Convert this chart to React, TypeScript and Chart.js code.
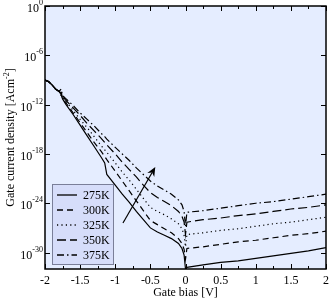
import React, { useEffect, useRef } from "react";
import { Chart, registerables } from "chart.js";

Chart.register(...registerables);

// Gate bias [V]
const xValues = [-2, -1.95, -1.9, -1.85, -1.8, -1.77, -1.75, -1.7, -1.6, -1.5, -1.4, -1.3, -1.2, -1.15, -1.12, -1.0, -0.9, -0.8, -0.7, -0.6, -0.5, -0.4, -0.3, -0.2, -0.1, -0.05, -0.02, 0, 0.02, 0.25, 0.5, 0.75, 1.0, 1.25, 1.5, 1.75, 2];

// log10 of gate current density [A cm^-2]
const logJ275 = [-9.0, -9.2, -9.6, -10.1, -10.4, -10.8, -11.3, -12.0, -13.2, -14.5, -15.8, -17.1, -18.4, -19.1, -20.5, -21.8, -22.9, -23.9, -25.0, -26.0, -27.0, -27.5, -27.9, -28.3, -28.9, -29.5, -30.3, -32.0, -31.8, -31.5, -31.2, -31.0, -30.7, -30.4, -30.1, -29.8, -29.4];
const logJ300 = [-9.0, -9.2, -9.6, -10.1, -10.4, -10.5, -11.2, -11.8, -13.0, -14.2, -15.4, -16.6, -17.7, -18.3, -18.7, -20.1, -21.3, -22.5, -23.7, -24.9, -26.1, -26.6, -27.1, -27.6, -28.3, -28.9, -29.6, -30.8, -29.5, -29.3, -29.0, -28.7, -28.5, -28.2, -27.9, -27.7, -27.4];
const logJ325 = [-9.0, -9.2, -9.6, -10.1, -10.4, -10.9, -11.1, -11.6, -12.7, -13.8, -14.8, -15.9, -17.0, -17.5, -17.8, -19.1, -20.2, -21.2, -22.3, -23.4, -24.5, -25.0, -25.4, -25.9, -26.5, -27.1, -27.9, -29.3, -27.8, -27.6, -27.3, -27.1, -26.8, -26.5, -26.3, -26.0, -25.7];
const logJ350 = [-9.0, -9.2, -9.6, -10.1, -10.4, -10.6, -11.0, -11.5, -12.4, -13.3, -14.3, -15.2, -16.1, -16.6, -16.9, -18.0, -19.0, -19.9, -20.8, -21.8, -22.7, -23.3, -23.8, -24.3, -25.0, -25.6, -26.3, -27.8, -26.3, -26.0, -25.8, -25.5, -25.3, -25.0, -24.7, -24.5, -24.2];
const logJ375 = [-9.0, -9.2, -9.6, -10.1, -10.4, -10.1, -10.9, -11.3, -12.1, -13.0, -13.8, -14.6, -15.5, -15.9, -16.2, -17.2, -18.0, -18.8, -19.7, -20.5, -21.3, -21.9, -22.4, -22.9, -23.6, -24.2, -25.0, -26.8, -25.1, -24.9, -24.6, -24.3, -24.0, -23.8, -23.5, -23.2, -22.9];

const seriesLabels = ["275K", "300K", "325K", "350K", "375K"];
const seriesValues = [logJ275, logJ300, logJ325, logJ350, logJ375];
const dashStyles = [[], [6, 4], [1.2, 3.2], [9, 4], [7, 3, 1.5, 3]];

const xTickLabels = [-2, -1.5, -1, -0.5, 0, 0.5, 1, 1.5, 2];
const yTickExponents = [0, -6, -12, -18, -24, -30];

// annotation arrow (data coordinates)
const arrowFrom = { x: -0.89, logY: -26.4 };
const arrowTo = { x: -0.43, logY: -19.6 };

const SERIF = '"Liberation Serif", "DejaVu Serif", serif';

const decorPlugin = {
  id: "decor",
  beforeDraw(chart: any) {
    const { ctx, chartArea: a } = chart;
    ctx.save();
    ctx.fillStyle = "#e5edff";
    ctx.fillRect(a.left, a.top, a.right - a.left, a.bottom - a.top);
    ctx.restore();
  },
  afterDatasetsDraw(chart: any) {
    const { ctx, chartArea: a } = chart;
    const xs = chart.scales.x;
    const ys = chart.scales.y;
    ctx.save();
    // frame
    ctx.strokeStyle = "#000";
    ctx.lineWidth = 1.5;
    ctx.setLineDash([]);
    ctx.strokeRect(a.left, a.top, a.right - a.left, a.bottom - a.top);

    // x ticks (inward, top and bottom)
    ctx.lineWidth = 1;
    for (let v = -2; v <= 2.0001; v += 0.25) {
      const px = Math.round(xs.getPixelForValue(v)) + 0.5;
      const major = Math.abs(v * 2 - Math.round(v * 2)) < 1e-6;
      const len = major ? 5 : 3;
      ctx.beginPath();
      ctx.moveTo(px, a.bottom);
      ctx.lineTo(px, a.bottom - len);
      ctx.moveTo(px, a.top);
      ctx.lineTo(px, a.top + len);
      ctx.stroke();
    }
    // y ticks
    for (const e of yTickExponents) {
      const py = Math.round(ys.getPixelForValue(Math.pow(10, e))) + 0.5;
      ctx.beginPath();
      ctx.moveTo(a.left, py);
      ctx.lineTo(a.left + 5, py);
      ctx.moveTo(a.right, py);
      ctx.lineTo(a.right - 5, py);
      ctx.stroke();
    }

    // x tick labels
    ctx.fillStyle = "#000";
    ctx.font = `12px ${SERIF}`;
    ctx.textAlign = "center";
    ctx.textBaseline = "alphabetic";
    for (const v of xTickLabels) {
      const px = xs.getPixelForValue(v);
      ctx.fillText(String(v), px, a.bottom + 15);
    }
    // y tick labels 10^e
    for (const e of yTickExponents) {
      const py = ys.getPixelForValue(Math.pow(10, e));
      const expText = e === 0 ? "0" : "-" + String(-e);
      ctx.font = `8px ${SERIF}`;
      const we = ctx.measureText(expText).width;
      const right = a.left - 2;
      ctx.textAlign = "left";
      ctx.fillText(expText, right - we, py - 1);
      ctx.font = `12px ${SERIF}`;
      ctx.textAlign = "right";
      ctx.fillText("10", right - we, py + 6);
    }

    // x title
    ctx.font = `12px ${SERIF}`;
    ctx.textAlign = "center";
    ctx.fillText("Gate bias [V]", (a.left + a.right) / 2, a.bottom + 27);

    // y title with superscript
    ctx.save();
    ctx.translate(14, (a.top + a.bottom) / 2);
    ctx.rotate(-Math.PI / 2);
    ctx.font = `12px ${SERIF}`;
    const main = "Gate current density [Acm";
    const sup = "-2";
    const close = "]";
    const wm = ctx.measureText(main).width;
    const wc = ctx.measureText(close).width;
    ctx.font = `8px ${SERIF}`;
    const ws = ctx.measureText(sup).width;
    const total = wm + ws + wc;
    let x0 = -total / 2;
    ctx.textAlign = "left";
    ctx.font = `12px ${SERIF}`;
    ctx.fillText(main, x0, 0);
    ctx.font = `8px ${SERIF}`;
    ctx.fillText(sup, x0 + wm, -5);
    ctx.font = `12px ${SERIF}`;
    ctx.fillText(close, x0 + wm + ws, 0);
    ctx.restore();

    // arrow
    const ax0 = xs.getPixelForValue(arrowFrom.x);
    const ay0 = ys.getPixelForValue(Math.pow(10, arrowFrom.logY));
    const ax1 = xs.getPixelForValue(arrowTo.x);
    const ay1 = ys.getPixelForValue(Math.pow(10, arrowTo.logY));
    const ang = Math.atan2(ay1 - ay0, ax1 - ax0);
    const hl = 9;
    const hw = 4;
    ctx.lineWidth = 1.2;
    ctx.beginPath();
    ctx.moveTo(ax0, ay0);
    ctx.lineTo(ax1 - Math.cos(ang) * hl * 0.7, ay1 - Math.sin(ang) * hl * 0.7);
    ctx.stroke();
    ctx.beginPath();
    ctx.moveTo(ax1, ay1);
    ctx.lineTo(ax1 - Math.cos(ang) * hl - Math.sin(ang) * hw, ay1 - Math.sin(ang) * hl + Math.cos(ang) * hw);
    ctx.lineTo(ax1 - Math.cos(ang) * hl * 0.7, ay1 - Math.sin(ang) * hl * 0.7);
    ctx.lineTo(ax1 - Math.cos(ang) * hl + Math.sin(ang) * hw, ay1 - Math.sin(ang) * hl - Math.cos(ang) * hw);
    ctx.closePath();
    ctx.fill();

    // legend
    const lx = a.left + 7;
    const ly = 184;
    const lw = 62;
    const lh = 81;
    ctx.fillStyle = "#d6ddfa";
    ctx.fillRect(lx, ly, lw, lh);
    ctx.strokeStyle = "#7a7f99";
    ctx.lineWidth = 1;
    ctx.strokeRect(lx + 0.5, ly + 0.5, lw - 1, lh - 1);
    chart.data.datasets.forEach((ds: any, i: number) => {
      const yy = ly + 11 + i * 15;
      ctx.strokeStyle = "#000";
      ctx.lineWidth = 1.3;
      ctx.setLineDash(ds.borderDash || []);
      ctx.beginPath();
      ctx.moveTo(lx + 5, yy);
      ctx.lineTo(lx + 25, yy);
      ctx.stroke();
      ctx.setLineDash([]);
      ctx.fillStyle = "#000";
      ctx.font = `12px ${SERIF}`;
      ctx.textAlign = "left";
      ctx.fillText(ds.label, lx + 31, yy + 4);
    });
    ctx.restore();
  },
};

export default function App() {
  const ref = useRef<HTMLCanvasElement | null>(null);
  useEffect(() => {
    if (!ref.current) return;
    const chart = new Chart(ref.current, {
      type: "line",
      data: {
        datasets: seriesValues.map((vals, i) => ({
          label: seriesLabels[i],
          data: xValues.map((x, j) => ({ x, y: Math.pow(10, vals[j]) })),
          borderColor: "#000",
          borderWidth: 1.2,
          borderDash: dashStyles[i],
          pointRadius: 0,
          tension: 0,
          fill: false,
        })),
      },
      options: {
        responsive: false,
        animation: false,
        devicePixelRatio: 1,
        layout: { padding: { left: 45, top: 6, right: 4, bottom: 29 } },
        scales: {
          x: { type: "linear", min: -2, max: 2, display: false },
          y: { type: "logarithmic", min: 1e-32, max: 1, display: false },
        },
        plugins: { legend: { display: false }, tooltip: { enabled: false } },
      },
      plugins: [decorPlugin],
    });
    return () => chart.destroy();
  }, []);
  return (
    <div style={{ position: "absolute", left: 0, top: 0, width: 330, height: 298, background: "#fff" }}>
      <canvas ref={ref} width={330} height={298} style={{ display: "block" }} />
    </div>
  );
}
